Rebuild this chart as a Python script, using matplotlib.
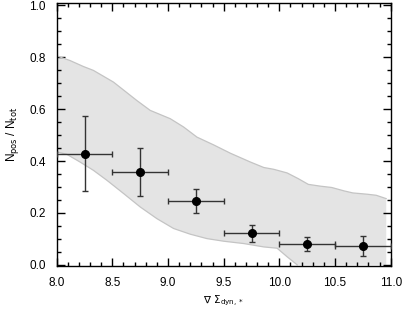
import matplotlib
matplotlib.use("Agg")
import matplotlib.pyplot as plt
from matplotlib.ticker import MultipleLocator

plt.rcParams['font.family'] = ['Liberation Sans', 'DejaVu Sans']

# Binned data points
x_centers = [8.25, 8.75, 9.25, 9.75, 10.25, 10.75]
x_halfwidth = [0.25, 0.25, 0.25, 0.25, 0.25, 0.25]
frac = [0.428, 0.358, 0.244, 0.121, 0.081, 0.072]
frac_hi = [0.574, 0.450, 0.292, 0.152, 0.107, 0.112]
frac_lo = [0.285, 0.265, 0.198, 0.087, 0.055, 0.033]

# Shaded band (upper and lower envelopes)
band_up_x = [8.0, 8.12, 8.24, 8.33, 8.51, 8.72, 8.84, 9.02, 9.14, 9.26, 9.41,
             9.56, 9.74, 9.86, 9.95, 10.07, 10.17, 10.26, 10.37, 10.47, 10.58,
             10.66, 10.79, 10.87, 10.96]
band_up_y = [0.805, 0.787, 0.764, 0.749, 0.704, 0.633, 0.595, 0.563, 0.531, 0.492, 0.462,
             0.430, 0.396, 0.375, 0.368, 0.354, 0.332, 0.310, 0.303, 0.298, 0.285,
             0.277, 0.272, 0.268, 0.255]
band_lo_x = [8.0, 8.09, 8.21, 8.33, 8.45, 8.6, 8.75, 8.9, 9.05, 9.2, 9.35, 9.5,
             9.68, 9.86, 9.98, 10.07, 10.16, 10.96]
band_lo_y = [0.435, 0.426, 0.396, 0.364, 0.326, 0.275, 0.223, 0.178, 0.140, 0.118,
             0.101, 0.091, 0.082, 0.069, 0.064, 0.031, 0.0, 0.0]

fig = plt.figure(figsize=(4.15, 3.12), dpi=100)
ax = fig.add_axes([0.1366, 0.147, 0.8048, 0.842])

poly_x = band_up_x + band_lo_x[::-1]
poly_y = band_up_y + band_lo_y[::-1]
ax.fill(poly_x, poly_y, facecolor='#e4e4e4', edgecolor='none', zorder=1)
ax.plot(band_up_x, band_up_y, color='#c4c4c4', lw=0.9, zorder=2)
ax.plot(band_lo_x[:-1], band_lo_y[:-1], color='#c4c4c4', lw=0.9, zorder=2)

yerr = [[f - l for f, l in zip(frac, frac_lo)], [h - f for f, h in zip(frac, frac_hi)]]
ax.errorbar(x_centers, frac, xerr=x_halfwidth, yerr=yerr, fmt='o', color='black',
            ecolor='#333333', elinewidth=1.0, capsize=2.5, capthick=1.0,
            markersize=5.5, zorder=3)

ax.set_xlim(8.0, 11.0)
ax.set_ylim(-0.005, 1.007)
ax.xaxis.set_major_locator(MultipleLocator(0.5))
ax.xaxis.set_minor_locator(MultipleLocator(0.1))
ax.yaxis.set_major_locator(MultipleLocator(0.2))
ax.yaxis.set_minor_locator(MultipleLocator(0.05))
ax.xaxis.set_major_formatter(matplotlib.ticker.FormatStrFormatter('%.1f'))
ax.yaxis.set_major_formatter(matplotlib.ticker.FormatStrFormatter('%.1f'))
ax.tick_params(which='both', direction='in', top=True, right=True, width=1.0,
               labelsize=8.5, colors='black')
ax.tick_params(which='major', length=5.5, pad=8)
ax.tick_params(which='minor', length=3)
for s in ax.spines.values():
    s.set_linewidth(1.0)

ax.set_xlabel(r'$\nabla\ \Sigma_{\rm dyn,*}$', fontsize=7.5, labelpad=3)
ax.set_ylabel(r'N$_{\rm pos}$ / N$_{\rm tot}$', fontsize=8.5, labelpad=6)

fig.savefig('out.png', dpi=100)
